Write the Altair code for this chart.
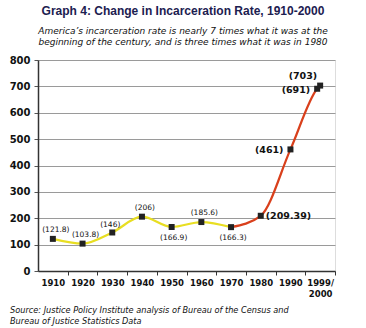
import altair as alt
import pandas as pd

years = [1910, 1920, 1930, 1940, 1950, 1960, 1970, 1980, 1990, 1999, 2000]
rates = [121.8, 103.8, 146, 206, 166.9, 185.6, 166.3, 209.39, 461, 691, 703]
y_ticks = [0, 100, 200, 300, 400, 500, 600, 700, 800]
x_bounds = [1915, 1925, 1935, 1945, 1955, 1965, 1975, 1985, 1995, 2005]

title_text = "Graph 4:  Change in Incarceration Rate, 1910-2000"
subtitle_lines = ["America\u2019s incarceration rate is nearly 7 times what it was at the",
                  "beginning of the century, and is three times what it was in 1980"]
source_lines = ["Source:  Justice Policy Institute analysis of Bureau of the Census and",
                "Bureau of Justice Statistics Data"]

pts = pd.DataFrame({"year": years, "rate": rates,
                    "label": [f"({v:g})" for v in rates]})
rows = []
for yr, r in zip(years, rates):
    if yr <= 1970:
        rows.append({"year": yr, "rate": r, "seg": "a"})
    if yr >= 1970:
        rows.append({"year": yr, "rate": r, "seg": "b"})
lines = pd.DataFrame(rows)

FONT = "DejaVu Sans"
W, H = 297, 211

xs = alt.Scale(domain=[1905, 2005], nice=False, zero=False)
ys = alt.Scale(domain=[0, 800], nice=False)

x_axis = alt.Axis(values=x_bounds, title=None, grid=False,
                  labelOffset=-14.85, labelExpr="datum.value == 2005 ? ['1999/', '2000'] : toString(datum.value - 5)",
                  labelFont=FONT, labelFontWeight="bold", labelFontSize=8.5, labelColor="#111",
                  labelPadding=3, tickSize=4, tickColor="#333", domainColor="#333",
                  domainWidth=1.5, labelAlign="center", labelBaseline="top", labelFlush=False,
                  labelOverlap=False, labelLineHeight=11)
y_axis = alt.Axis(values=y_ticks, title=None, grid=True, gridColor="#9a9a9a",
                  labelFont=FONT, labelFontWeight="bold", labelFontSize=10, labelColor="#111",
                  tickSize=4, tickColor="#555", domainColor="#333", domainWidth=1.5,
                  labelPadding=4, labelOverlap=False)

X = alt.X("year:Q", scale=xs, axis=x_axis)
Y = alt.Y("rate:Q", scale=ys, axis=y_axis)

base_line = alt.Chart(lines).mark_line(interpolate="monotone", strokeWidth=2.2).encode(
    x=X, y=Y,
    color=alt.Color("seg:N", scale=alt.Scale(domain=["a", "b"], range=["#e8de22", "#d9401c"]), legend=None),
    detail="seg:N",
)

markers = alt.Chart(pts).mark_square(size=36, color="#222", opacity=1).encode(x=X, y=Y)

def lbl(filter_years, **kw):
    return alt.Chart(pts).transform_filter(
        alt.FieldOneOfPredicate(field="year", oneOf=filter_years)
    ).mark_text(font=FONT, color="#111", **kw).encode(x=X, y=Y, text="label:N")

lab_above = lbl([1910, 1920, 1940, 1960], fontSize=7.5, dx=3, dy=-9)
lab_above2 = lbl([1930], fontSize=7.5, dx=-2, dy=-7)
lab_below = lbl([1950, 1970], fontSize=7.5, dx=2, dy=11)
lab_right = lbl([1980], fontSize=9.5, fontWeight="bold", align="left", dx=5)
lab_left = lbl([1990, 1999], fontSize=9.5, fontWeight="bold", align="right", dx=-7, dy=1)
lab_ul = lbl([2000], fontSize=9.5, fontWeight="bold", align="right", dx=-3, dy=-10)

def note(text, x, y, **kw):
    return alt.Chart(pd.DataFrame({"t": [text]})).mark_text(**kw).encode(
        x=alt.value(x), y=alt.value(y), text="t:N")

title = note(title_text, 145, -49, font="Liberation Sans", fontSize=12, fontWeight="bold",
             color="#1c2050", align="center")
sub1 = note(subtitle_lines[0], 145, -29, font=FONT, fontSize=9, fontStyle="italic",
            color="#111", align="center")
sub2 = note(subtitle_lines[1], 145, -18, font=FONT, fontSize=9, fontStyle="italic",
            color="#111", align="center")
src1 = note(source_lines[0], -28, 251, font=FONT, fontSize=8.2, fontStyle="italic",
            color="#111", align="left")
src2 = note(source_lines[1], -28, 262, font=FONT, fontSize=8.2, fontStyle="italic",
            color="#111", align="left")

chart = alt.layer(base_line, markers, lab_above, lab_above2, lab_below, lab_right,
                  lab_left, lab_ul, title, sub1, sub2, src1, src2).properties(
    width=W, height=H,
    autosize=alt.AutoSizeParams(type="none"),
    padding={"left": 38, "top": 60, "right": 31, "bottom": 57},
).configure_view(stroke="#bbb", strokeWidth=1).configure(background="white")

chart.save("out.html", embed_options={"renderer": "svg", "actions": False})
